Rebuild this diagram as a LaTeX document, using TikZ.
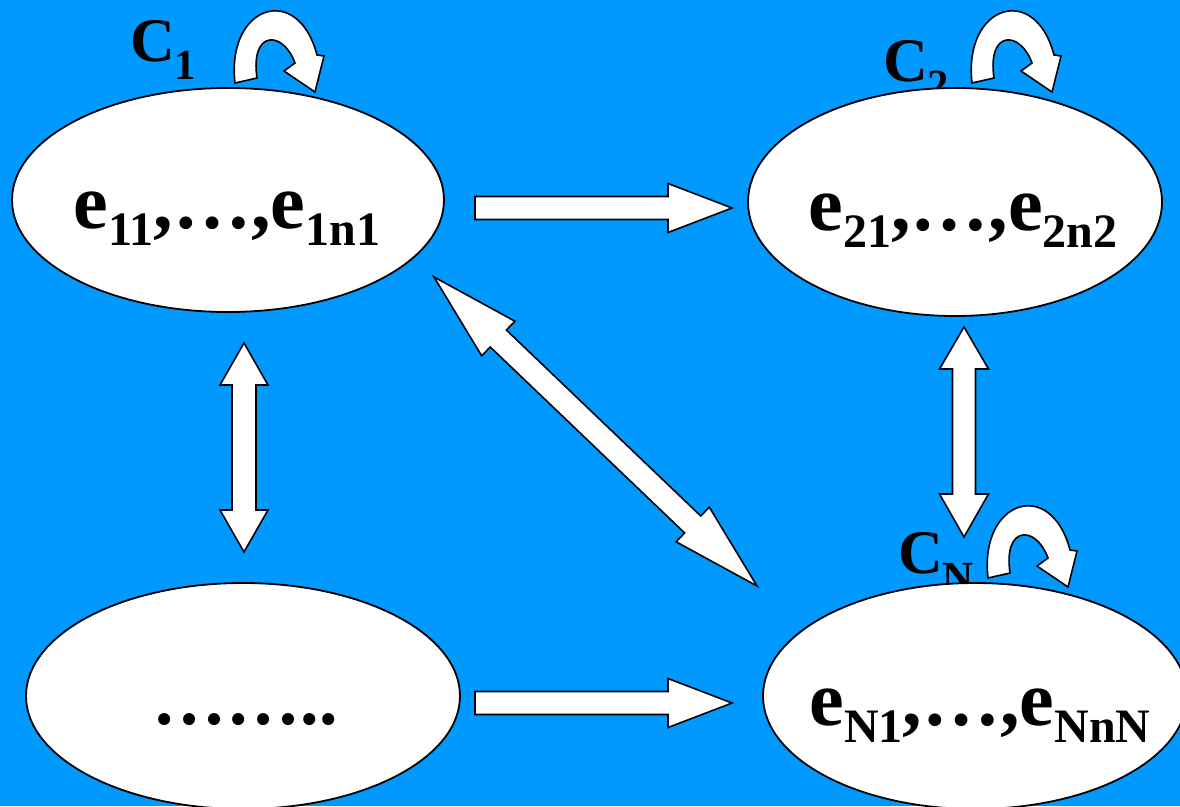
\documentclass[tikz,border=0pt]{standalone}
\usepackage{fontspec}
\setmainfont{Liberation Serif}
\usetikzlibrary{shapes.geometric}
\definecolor{bgblue}{HTML}{0099FF}
\newcommand{\bigtxt}{\fontsize{78}{90}\selectfont\bfseries}
\newcommand{\dottxt}{\fontsize{74}{90}\selectfont\bfseries}
\newcommand{\sbs}[1]{\raisebox{-17pt}{\fontsize{48}{48}\selectfont #1}}
\newcommand{\lbltxt}{\fontsize{62}{70}\selectfont\bfseries}
\newcommand{\lsub}[1]{\raisebox{-18pt}{\fontsize{43}{43}\selectfont #1}}
\begin{document}
\begin{tikzpicture}[x=1pt,y=-1pt,
  state/.style={ellipse, draw=black, fill=white, line width=1.8pt, inner sep=0pt},
  blockarr/.style={draw=black, fill=white, line width=1.6pt, line join=miter},
  txt/.style={inner sep=0pt, anchor=base, font=\bigtxt},
  lbl/.style={inner sep=0pt, anchor=base west, font=\lbltxt},
  loop arrow/.pic={\draw[blockarr] (0,0) .. controls (-9,-78) and (63,-101) .. (82,-28)
      -- (89,-27) -- (80,9) -- (49,-12) -- (60,-20)
      .. controls (48,-53) and (15,-53) .. (22,-5) -- cycle;}
  ]
\useasboundingbox (0,0) rectangle (1180,806);
\fill[bgblue] (0,0) rectangle (1180,806);

% cluster labels
\node[lbl] (c1) at (130,61) {C\lsub{1}};
\node[lbl] (c2) at (883,81) {C\lsub{2}};
\node[lbl] (cN) at (898,573) {C\lsub{N}};

% self loops
\pic at (235,83) {loop arrow};
\pic at (972,83) {loop arrow};
\pic at (988,578) {loop arrow};

% states
\node[state, minimum width=432, minimum height=224] (s1) at (228,200) {};
\node[state, minimum width=414, minimum height=228] (s2) at (955,202) {};
\node[state, minimum width=434, minimum height=226] (s3) at (243,696) {};
\node[state, minimum width=424, minimum height=226] (s4) at (975,696) {};

\node[txt] (t1) at (227,228) {e\sbs{11},…,e\sbs{1n1}};
\node[txt] (t2) at (963,230) {e\sbs{21},…,e\sbs{2n2}};
\node[txt, font=\dottxt] (t3) at (245,724) {……..};
\node[txt] (t4) at (980,725) {e\sbs{N1},…,e\sbs{NnN}};

% block arrows
\draw[blockarr] (475,196.5) -- (668,196.5) -- (668,183.5) -- (732,208) -- (668,232.5) -- (668,219.5) -- (475,219.5) -- cycle;
\draw[blockarr] (475,691.5) -- (668,691.5) -- (668,678.5) -- (732,703) -- (668,727.5) -- (668,714.5) -- (475,714.5) -- cycle;
\draw[blockarr] (244,343) -- (268,385) -- (256,385) -- (256,510) -- (268,510) -- (244,552) -- (220,510) -- (232,510) -- (232,385) -- (220,385) -- cycle;
\draw[blockarr] (964,327) -- (988.5,369) -- (975.5,369) -- (975.5,494) -- (988.5,494) -- (964,537) -- (939.5,494) -- (952.5,494) -- (952.5,369) -- (939.5,369) -- cycle;
\begin{scope}[shift={(434,277)}, rotate=-43.73]
\draw[blockarr] (0,0) -- (89,24) -- (89,11.7) -- (358,11.7) -- (358,24) -- (447,0) -- (358,-24) -- (358,-11.7) -- (89,-11.7) -- (89,-24) -- cycle;
\end{scope}
\end{tikzpicture}
\end{document}
